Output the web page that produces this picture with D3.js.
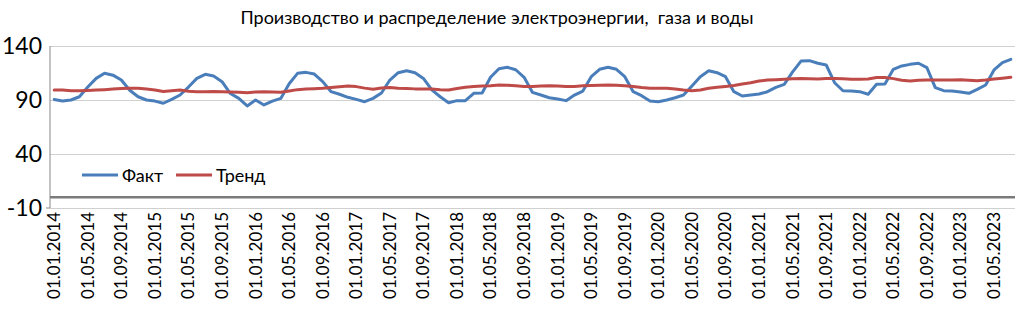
<!DOCTYPE html>
<html>
<head>
<meta charset="utf-8">
<script src="https://cdn.jsdelivr.net/npm/d3@7"></script>
<style>
  body { margin: 0; background: #fff; }
  text { font-family: Lato, "Open Sans", sans-serif; fill: #000; }
</style>
</head>
<body>
<div id="chart"></div>
<script>
// monthly index, Jan 2014 .. Jul 2023
var title = "Производство и распределение электроэнергии,  газа и воды";

var months = d3.timeMonth.range(new Date(2014, 0, 1), new Date(2023, 7, 1));

var fact = [
  90.5, 89, 90, 93, 102, 110, 114.7, 113, 108.5, 99, 93, 90,
  89, 87, 90.6, 94.6, 102, 110, 113.8, 112.2, 107, 96, 91.5, 84.5,
  90, 85.4, 89, 91.5, 105, 114.7, 115.6, 114, 107, 97.7, 95.3, 92.5,
  90.6, 88.4, 91.5, 96.5, 108.5, 115.3, 117, 115.3, 110, 99.3, 93, 87.5,
  89.4, 89.4, 96.2, 96.5, 111, 119, 120.3, 118, 111, 97, 94.6, 92.1,
  90.9, 89.4, 94.6, 98.3, 111.6, 118.4, 120.3, 118.4, 111.6, 97.7, 94, 89,
  88.4, 90, 92.1, 94.6, 103, 111.6, 117, 115.3, 111.6, 97.7, 93.7, 94.6,
  95.5, 97.7, 101.7, 104.5, 116, 126, 126.4, 124, 122.4, 106, 98.6, 98.3,
  97.7, 95.3, 104.5, 104.8, 118.4, 121.5, 123, 124, 120, 101.4, 98.6, 98.3,
  97.4, 96.2, 99.9, 103.9, 117.8, 124.6, 127.7
];

var trend = [
  99.3, 99.3, 98.5, 98.5, 98.8, 99.2, 99.6, 100.1, 100.6, 100.8, 100.8, 100.2,
  99.3, 97.8, 98.6, 99.2, 98.2, 97.7, 97.7, 97.8, 97.7, 97.5, 97.2, 96.8,
  97.5, 97.7, 97.4, 97.1, 98.3, 99.6, 100.1, 100.5, 100.8, 101.5, 102.3, 103,
  102.4, 101, 100, 101.2, 101.6, 100.9, 100.6, 100.3, 100.2, 100.1, 99.6, 99.3,
  100.6, 101.8, 102.5, 103, 103.3, 103.8, 103.7, 103.2, 102.5, 102.4, 102.9, 103.3,
  102.9, 102.4, 102.6, 103.1, 103.4, 103.7, 103.9, 103.6, 103.3, 102.6, 101.5, 100.8,
  100.8, 100.8, 100.2, 99.3, 98.6, 99.2, 100.9, 101.9, 102.6, 103.4, 104.8, 106,
  107.6, 108.5, 108.8, 109.2, 109.6, 110, 109.7, 109.4, 109.8, 110, 109.6, 109.2,
  109.2, 109.4, 110.8, 110.8, 109.8, 108.3, 107.6, 108.2, 108.5, 108.5, 108.5, 108.6,
  108.8, 108.4, 107.9, 108.5, 109.4, 110.2, 111
];

var tickLabels = [
  "01.01.2014", "01.05.2014", "01.09.2014", "01.01.2015", "01.05.2015", "01.09.2015",
  "01.01.2016", "01.05.2016", "01.09.2016", "01.01.2017", "01.05.2017", "01.09.2017",
  "01.01.2018", "01.05.2018", "01.09.2018", "01.01.2019", "01.05.2019", "01.09.2019",
  "01.01.2020", "01.05.2020", "01.09.2020", "01.01.2021", "01.05.2021", "01.09.2021",
  "01.01.2022", "01.05.2022", "01.09.2022", "01.01.2023", "01.05.2023"
];

var yTicks = [-10, 40, 90, 140];

var seriesNames = ["Факт", "Тренд"];
var colors = ["#4a7ebb", "#be4b48"];

var W = 1018, H = 313;
var margin = {top: 46, right: 3, bottom: 105, left: 50},
  width = W - margin.left - margin.right,
  height = H - margin.top - margin.bottom;

var x = d3.scaleBand()
  .domain(d3.range(months.length))
  .range([0, width])
  .padding(0);

var y = d3.scaleLinear()
  .domain([-10, 140])
  .range([height, 0]);

var svg = d3.select("#chart").append("svg")
  .attr("width", W)
  .attr("height", H);

svg.append("text")
  .attr("x", 497)
  .attr("y", 24)
  .attr("text-anchor", "middle")
  .style("font-size", "18px")
  .style("white-space", "pre")
  .text(title);

var g = svg.append("g")
  .attr("transform", "translate(" + margin.left + "," + margin.top + ")");

// gridlines + y labels
g.append("g")
  .call(d3.axisLeft(y).tickValues(yTicks).tickSize(-width).tickPadding(8)
    .tickFormat(d => String(d)))
  .call(a => a.select(".domain").remove())
  .call(a => a.selectAll(".tick line").attr("stroke", "#d0d0d0").attr("stroke-width", 1))
  .call(a => a.selectAll(".tick text")
    .style("font-size", "23px")
    .style("font-family", "Lato, 'Open Sans', sans-serif"));

// left axis line
g.append("line")
  .attr("x1", 0).attr("x2", 0)
  .attr("y1", 0).attr("y2", height)
  .attr("stroke", "#868686");

g.append("line")
  .attr("x1", -4).attr("x2", 0)
  .attr("y1", height).attr("y2", height)
  .attr("stroke", "#868686");

// category axis crossing at zero
g.append("line")
  .attr("x1", 0).attr("x2", width)
  .attr("y1", y(0)).attr("y2", y(0))
  .attr("stroke", "#7a7a7a")
  .attr("stroke-width", 2.5);

// rotated date labels at the bottom
g.append("g")
  .attr("transform", "translate(0," + height + ")")
  .call(d3.axisBottom(x)
    .tickValues(d3.range(0, months.length, 4))
    .tickSize(0)
    .tickFormat((d, i) => tickLabels[i]))
  .call(a => a.select(".domain").remove())
  .selectAll("text")
    .style("font-size", "17px")
    .style("font-family", "Lato, 'Open Sans', sans-serif")
    .style("text-anchor", "end")
    .attr("x", -4)
    .attr("y", 0)
    .attr("dy", "0.35em")
    .attr("transform", "rotate(-90)");

var line = d3.line()
  .x((d, i) => x(i) + x.bandwidth() / 2)
  .y(d => y(d));

[fact, trend].forEach(function(s, k) {
  g.append("path")
    .datum(s)
    .attr("fill", "none")
    .attr("stroke", colors[k])
    .attr("stroke-width", 3)
    .attr("stroke-linejoin", "round")
    .attr("stroke-linecap", "round")
    .attr("d", line);
});

// legend
var legend = svg.append("g").attr("transform", "translate(82,175)");
var lx = [0, 94];
seriesNames.forEach(function(name, k) {
  legend.append("line")
    .attr("x1", lx[k]).attr("x2", lx[k] + 36)
    .attr("y1", 0).attr("y2", 0)
    .attr("stroke", colors[k])
    .attr("stroke-width", 3);
  legend.append("text")
    .attr("x", lx[k] + 40)
    .attr("y", 6.5)
    .style("font-size", "18px")
    .text(name);
});
</script>
</body>
</html>
